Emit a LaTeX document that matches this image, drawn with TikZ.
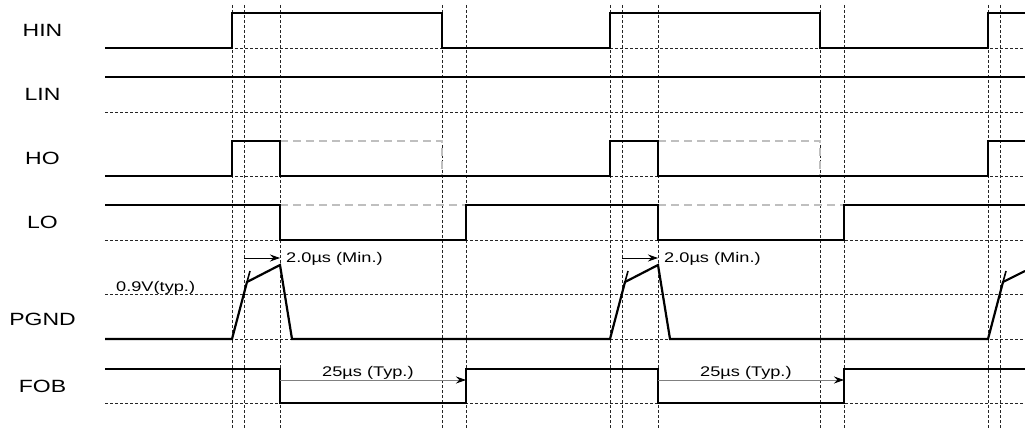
\documentclass[tikz,border=0pt]{standalone}
\usepackage{fontspec}
\setmainfont{Liberation Sans}[FakeStretch=1.3]
\usetikzlibrary{arrows.meta}

\begin{document}
\begin{tikzpicture}[x=1pt,y=-1pt,>={Stealth[length=10pt,width=7pt]},
  sig/.style={line width=2.2pt},
  guide/.style={dash pattern=on 3pt off 2pt,line width=0.7pt,black!85},
  ghost/.style={dash pattern=on 8pt off 5pt,line width=1.2pt,black!25},
  lbl/.style={font=\fontsize{17.7}{20}\selectfont,anchor=base,inner sep=0pt},
  note/.style={font=\fontsize{14}{16}\selectfont,anchor=base west,inner sep=0pt}]

  \useasboundingbox (0,0) rectangle (1025,430);

  % guide lines
  \foreach \x in {232,244,280,442,466,610,622,658,820,844,988,1000}
    \draw[guide] (\x,5) -- (\x,430);
  \foreach \y in {48,112,176,240,294,339,403}
    \draw[guide] (105,\y) -- (1025,\y);

  % signal names
  \foreach \name/\yy in {HIN/36.7,LIN/101,HO/164.7,LO/229,PGND/325,FOB/392.3}
    \node[lbl] (\name) at (42.5,\yy) {\name};

  % released levels
  \draw[ghost] (280,141) -- (442,141) -- (442,176);
  \draw[ghost] (658,141) -- (820,141) -- (820,176);
  \draw[ghost] (280,205) -- (466,205);
  \draw[ghost] (658,205) -- (844,205);

  % waveforms
  \draw[sig] (105,48) -| (232,13) -| (442,48) -| (610,13) -| (820,48) -| (988,13) -- (1025,13);
  \draw[sig] (105,77) -- (1025,77);
  \draw[sig] (105,176) -| (232,141) -| (280,176) -| (610,141) -| (658,176) -| (988,141) -- (1025,141);
  \draw[sig] (105,205) -| (280,240) -| (466,205) -| (658,240) -| (844,205) -- (1025,205);
  \draw[sig] (105,339) -- (232,339) -- (247,282) -- (280,265) -- (292,339) -- (610,339)
    -- (625,282) -- (658,265) -- (670,339) -- (988,339) -- (1003,282) -- (1025,271);
  \foreach \x in {247,625,1003}
    \draw[line width=1.6pt] (\x,282) -- (\x+3,271);
  \draw[sig] (105,369) -| (280,403) -| (466,369) -| (658,403) -| (844,369) -- (1025,369);

  % timing marks
  \foreach \t/\s in {a/0,b/378} {
    \coordinate (min\t0) at (244+\s,258);
    \coordinate (min\t1) at (280+\s,258);
    \coordinate (typ\t0) at (280+\s,380);
    \coordinate (typ\t1) at (466+\s,380);
    \draw[->,line width=0.8pt] (min\t0) -- (min\t1);
    \draw[-{Stealth[length=10pt,width=7pt,color=black]},gray,line width=0.8pt] (typ\t0) -- (typ\t1);
    \node[note] (min\t) at (286+\s,262.5) {2.0µs (Min.)};
    \node[note] (typ\t) at (322+\s,376.5) {25µs (Typ.)};
  }
  \node[note] (vth) at (116,291) {0.9V(typ.)};
\end{tikzpicture}
\end{document}
